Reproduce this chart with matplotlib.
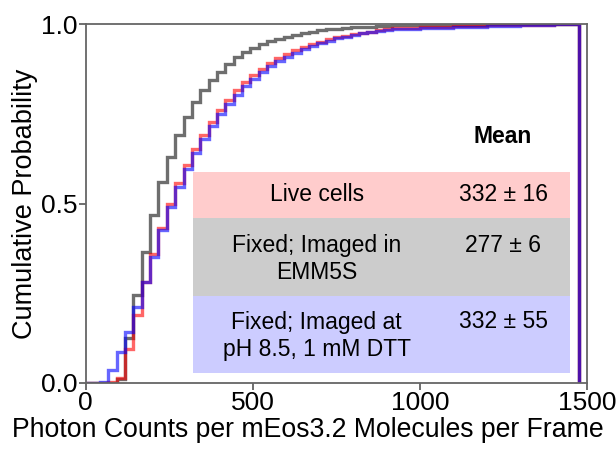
import numpy as np
import matplotlib
matplotlib.use("Agg")
import matplotlib.pyplot as plt
from matplotlib.patches import Rectangle

plt.rcParams['font.family'] = ['Liberation Sans', 'DejaVu Sans']

# bin edges of the cumulative step histograms (photon counts)
edges = [0, 18, 43, 68, 93, 118, 143, 168, 193, 218, 243, 268, 293, 318, 343,
         368, 393, 418, 443, 468, 493, 518, 543, 568, 593, 618, 643, 668, 693,
         718, 743, 768, 793, 818, 843, 868, 893, 918, 1000, 1100, 1200, 1300,
         1400, 1476]

live = [0, 0, 0, 0.003, 0.015, 0.095, 0.19, 0.28, 0.36, 0.432, 0.5, 0.556,
        0.606, 0.651, 0.69, 0.726, 0.76, 0.789, 0.815, 0.838, 0.858, 0.876,
        0.892, 0.906, 0.917, 0.927, 0.936, 0.944, 0.951, 0.957, 0.963, 0.968,
        0.972, 0.976, 0.979, 0.982, 0.985, 0.988, 0.991, 0.994, 0.996, 0.998, 1.0]

fixed_emm = [0, 0, 0, 0, 0.01, 0.125, 0.245, 0.366, 0.468, 0.56, 0.63, 0.69,
             0.742, 0.784, 0.816, 0.844, 0.867, 0.889, 0.907, 0.922, 0.934,
             0.944, 0.952, 0.959, 0.965, 0.97, 0.975, 0.979, 0.982, 0.985,
             0.987, 0.989, 0.991, 0.992, 0.993, 0.994, 0.995, 0.996, 0.997,
             0.998, 0.999, 1.0, 1.0]

fixed_ph = [0, 0, 0.004, 0.036, 0.087, 0.143, 0.212, 0.28, 0.35, 0.425, 0.49,
            0.545, 0.595, 0.64, 0.68, 0.715, 0.748, 0.777, 0.803, 0.826, 0.847,
            0.865, 0.882, 0.897, 0.909, 0.92, 0.93, 0.939, 0.947, 0.954, 0.96,
            0.965, 0.97, 0.974, 0.978, 0.981, 0.984, 0.987, 0.99, 0.993, 0.995,
            0.997, 1.0]

labels = ["Live cells", "Fixed; Imaged in\nEMM5S", "Fixed; Imaged at\npH 8.5, 1 mM DTT"]
means = ["332 ± 16", "277 ± 6", "332 ± 55"]
box_colors = ["#ffcccc", "#cccccc", "#ccccff"]

fig = plt.figure(figsize=(6.16, 4.49), dpi=100)
ax = fig.add_axes([0.139, 0.147, 0.814, 0.7995])

ax.stairs(fixed_emm, edges, color="#6e6e6e", lw=2.4)
ax.stairs(live, edges, color=(1.0, 0.0, 0.0), alpha=0.6, lw=2.4)
ax.stairs(fixed_ph, edges, color=(0.0, 0.0, 1.0), alpha=0.6, lw=2.4)

ax.set_xlim(0, 1500)
ax.set_ylim(0, 1.0)
ax.set_xticks([0, 500, 1000, 1500])
ax.set_yticks([0, 0.5, 1.0])
ax.set_yticklabels(["0.0", "0.5", "1.0"])
ax.tick_params(labelsize=19, length=5, width=1.2, color="#555555", pad=1)
for s in ax.spines.values():
    s.set_color("#666666")
    s.set_linewidth(1.3)
ax.set_xlabel("Photon Counts per mEos3.2 Molecules per Frame", fontsize=19.2)
ax.xaxis.set_label_coords(0.443, -0.095)
ax.set_ylabel("Cumulative Probability", fontsize=19.5, labelpad=2)

# mean table
box_y = [(0.459, 0.589), (0.242, 0.459), (0.027, 0.242)]
lab_y = [0.524, 0.345, 0.131]
val_y = [0.524, 0.384, 0.171]
for (y0, y1), c in zip(box_y, box_colors):
    ax.add_patch(Rectangle((0.215, y0), 0.751, y1 - y0, transform=ax.transAxes,
                           facecolor=c, edgecolor="none", zorder=3))
ax.text(0.8325, 0.686, "Mean", transform=ax.transAxes, fontsize=16.5,
        fontweight="bold", ha="center", va="center", zorder=4)
for lab, ly, val, vy in zip(labels, lab_y, means, val_y):
    ax.text(0.461, ly, lab, transform=ax.transAxes, fontsize=16.5,
            ha="center", va="center", zorder=4, linespacing=1.2)
    ax.text(0.8325, vy, val, transform=ax.transAxes, fontsize=16.5,
            ha="center", va="center", zorder=4)

fig.savefig("out.png", dpi=100)
